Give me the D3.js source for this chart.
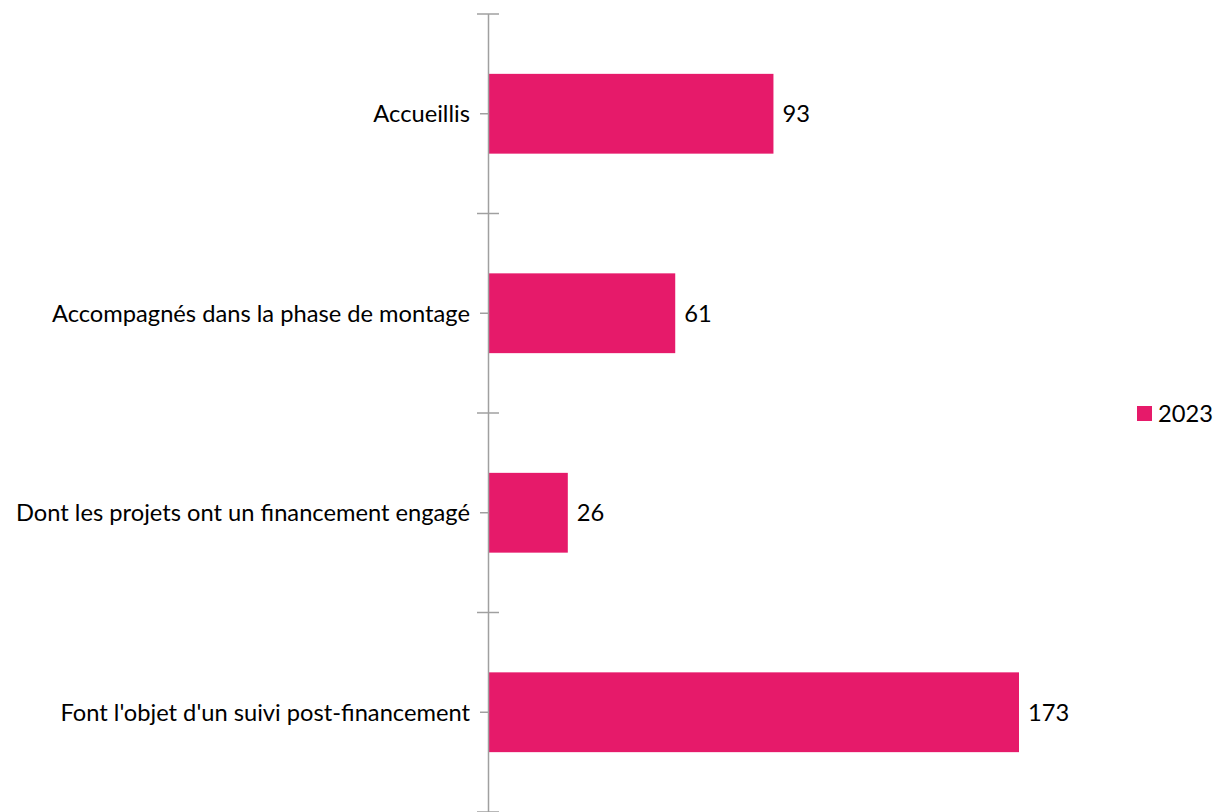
<!DOCTYPE html>
<html><head><meta charset="utf-8">
<script src="https://cdn.jsdelivr.net/npm/d3@7"></script>
<style>body{margin:0;background:#fff}svg{display:block}text{font-family:Lato,"Noto Sans",sans-serif;fill:#000}</style>
</head><body>
<script>
const categories = ["Accueillis","Accompagnés dans la phase de montage","Dont les projets ont un financement engagé","Font l'objet d'un suivi post-financement"];
const values2023 = [93,61,26,173];
const seriesName = "2023";
const barColor = "#E61A6A";
const axisColor = "#A0A0A0";

const W = 1218, H = 812;
const svg = d3.select("body").append("svg").attr("width",W).attr("height",H);
const x = d3.scaleLinear().domain([0,173]).range([488,1019]);
const y = d3.scaleBand().domain(categories).range([14,812]).paddingInner(0.6).paddingOuter(0.3);
const fs = 23.7;

svg.selectAll("rect.bar").data(categories).join("rect").attr("class","bar")
  .attr("x",x(0)).attr("y",d=>y(d)).attr("height",y.bandwidth())
  .attr("width",(d,i)=>x(values2023[i])-x(0)).attr("fill",barColor);

const step = y.step();
svg.append("line").attr("x1",488.5).attr("x2",488.5).attr("y1",14).attr("y2",812)
  .attr("stroke",axisColor).attr("stroke-width",1.5);
const bounds = d3.range(categories.length+1).map(i=>14+i*step);
svg.selectAll("line.bt").data(bounds).join("line").attr("class","bt")
  .attr("x1",477).attr("x2",499).attr("y1",d=>d).attr("y2",d=>d)
  .attr("stroke",axisColor).attr("stroke-width",1.5);
svg.selectAll("line.lt").data(categories).join("line").attr("class","lt")
  .attr("x1",480).attr("x2",488).attr("y1",d=>y(d)+y.bandwidth()/2).attr("y2",d=>y(d)+y.bandwidth()/2)
  .attr("stroke",axisColor).attr("stroke-width",1.5);
svg.selectAll("text.cat").data(categories).join("text").attr("class","cat")
  .attr("x",470).attr("y",d=>y(d)+y.bandwidth()/2).attr("dy","0.35em")
  .attr("text-anchor","end").attr("font-size",fs).text(d=>d);
svg.selectAll("text.val").data(categories).join("text").attr("class","val")
  .attr("x",(d,i)=>x(values2023[i])+9).attr("y",d=>y(d)+y.bandwidth()/2).attr("dy","0.35em")
  .attr("font-size",fs).text((d,i)=>values2023[i]);
const lg = svg.append("g").attr("transform","translate(1137,406)");
lg.append("rect").attr("width",15).attr("height",15).attr("fill",barColor);
lg.append("text").attr("x",21).attr("y",7.5).attr("dy","0.35em").attr("font-size",fs).text(seriesName);
</script>
</body></html>
